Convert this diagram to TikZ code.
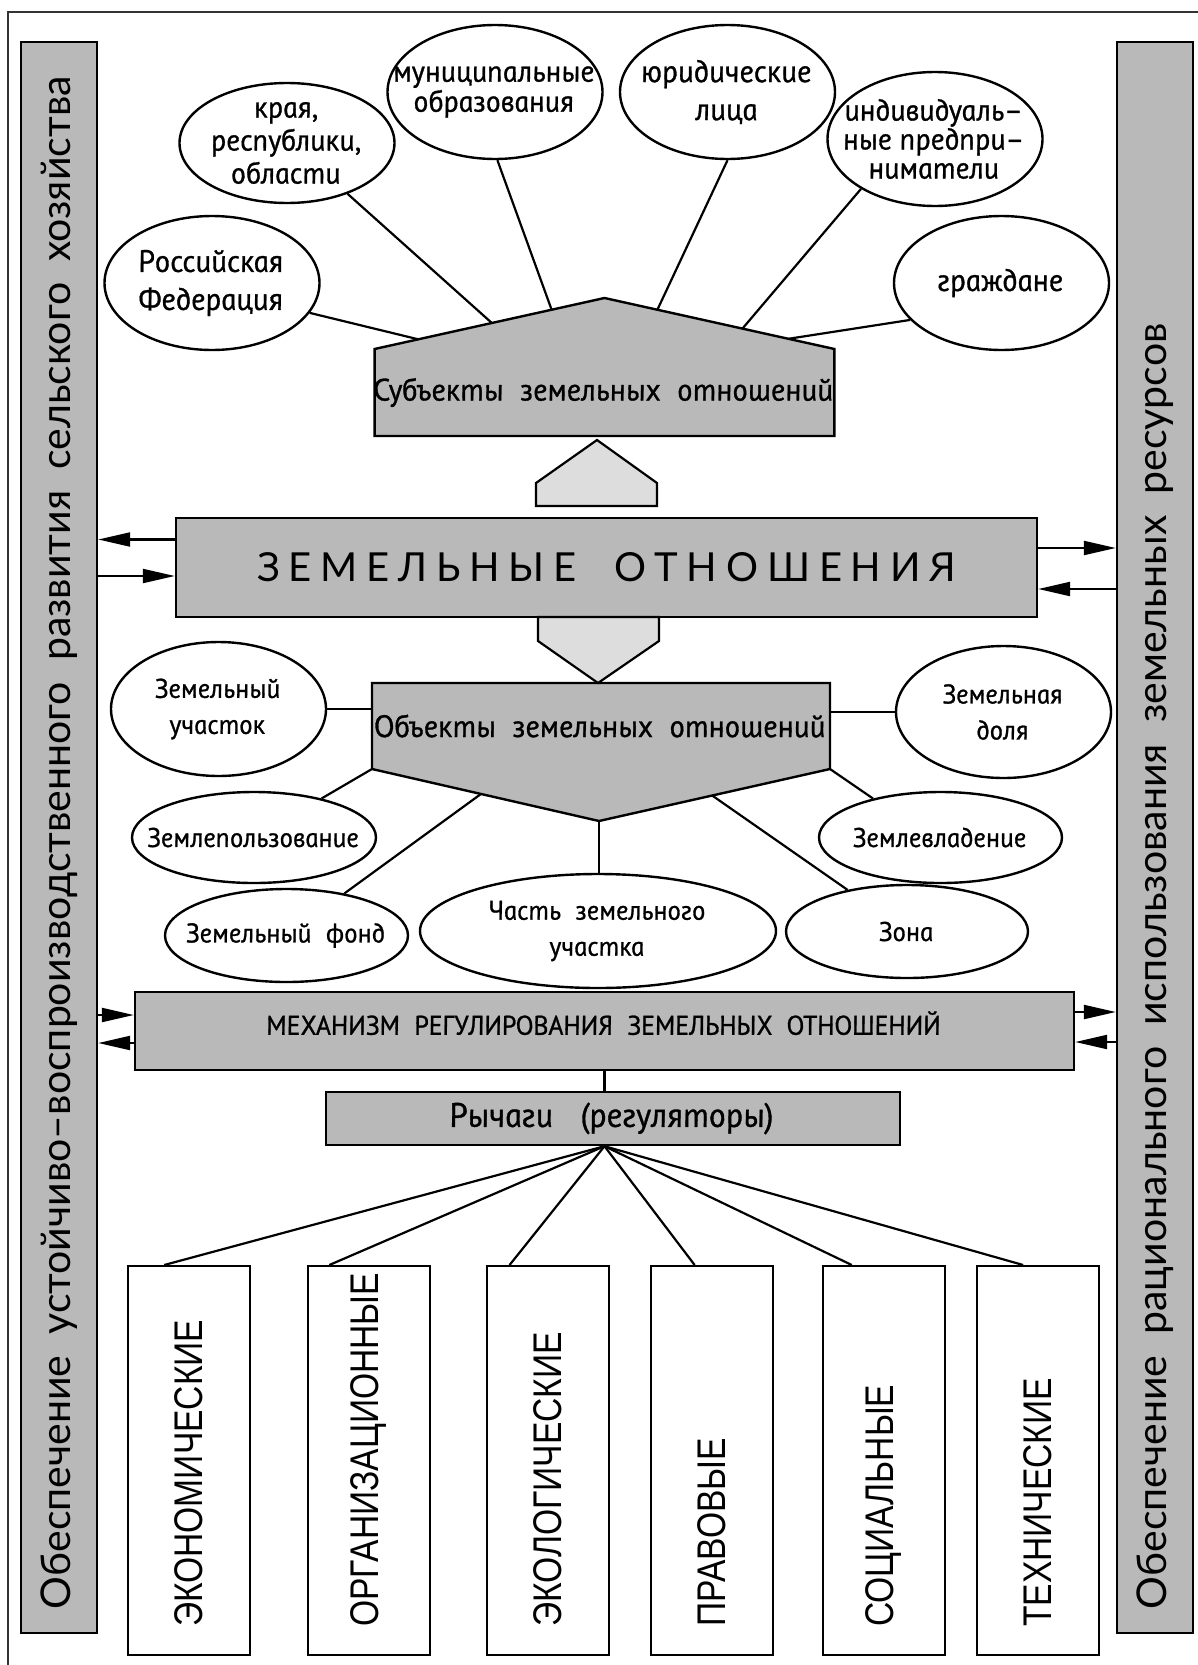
\documentclass[tikz,border=0pt]{standalone}
\usepackage{fontspec}
\setmainfont{PT Sans}
\newfontfamily\gostfont[ItalicFeatures={FakeSlant=-0.2,FakeBold=1}]{PT Sans}
\newfontfamily\barfont{Lato}
\newfontfamily\widefont[LetterSpace=22]{Lato}
\newfontfamily\capsfont[FakeStretch=0.84]{Liberation Sans}
\newcommand\gost[2]{\gostfont\itshape\fontsize{#1}{#2}\selectfont}
\usetikzlibrary{arrows.meta,calc,shapes.geometric,backgrounds}
\definecolor{boxgray}{RGB}{185,185,185}
\definecolor{arrowgray}{RGB}{221,221,221}

\begin{document}
\begin{tikzpicture}[x=1pt, y=-1pt, line width=2.2pt, >={Triangle[length=32pt,width=14pt]},
    graybox/.style={draw, fill=boxgray, line width=2.4pt, inner sep=0pt},
    plainbox/.style={inner sep=0pt, outer sep=0pt},
    ell/.style={draw, ellipse, line width=2.4pt, inner sep=0pt, minimum width=215, minimum height=134},
    lever/.style={draw, line width=2pt, inner sep=0pt, minimum width=122, minimum height=389},
    bartext/.style={rotate=90, anchor=west, inner sep=0pt, font=\barfont\fontsize{41}{41}\selectfont},
    levtext/.style={rotate=90, anchor=west, inner sep=0pt, font=\capsfont\fontsize{40}{40}\selectfont},
    every label/.style={align=center, font=\gost{31}{38}}]
    \useasboundingbox (0,0) rectangle (1198,1665);
    % frame
    \draw[line width=1.5pt, black!80] (8,1665) -- (8,12) -- (1198,12);

    % side bars
    \node[graybox, minimum width=76, minimum height=1591] (lbar) at (59,837.5) {};
    \node[graybox, minimum width=76, minimum height=1591] (rbar) at (1155,837.5) {};
    \node[bartext] (lbar-t) at ([yshift=24]lbar.south) {Обеспечение\ \ устойчиво–воспроизводственного\ \ развития\ \ сельского\ \ хозяйства};
    \node[bartext] (rbar-t) at ([yshift=24]rbar.south) {Обеспечение\ \ рационального\ \ использования\ \ земельных\ \ ресурсов};

    % subjects
    \node[plainbox, minimum width=459, minimum height=87, font=\gost{31}{31}] (subj) at (604.5,392.5) {Субъекты\ \ земельных\ \ отношений};
    \coordinate (subj-top) at ($(subj.north)+(0,-51)$);
    \begin{scope}[on background layer]
        \draw[fill=boxgray, line width=2.4pt] (subj.south west) -- (subj.north west) -- (subj-top) -- (subj.north east) -- (subj.south east) -- cycle;
    \end{scope}
    \node[ell, label={center:{Российская\\Федерация}}] (rf) at (212,283) {};
    \node[ell, minimum height=120, label={[font=\gost{30}{33}]center:{края,\\республики,\\области}}] (kr) at (287,143) {};
    \node[ell, label={[font=\gost{30}{30}]center:{муниципальные\\образования}}] (mo) at (495,92) {};
    \node[ell, label={center:{юридические\\лица}}] (yl) at (727.5,92) {};
    \node[ell, label={[font=\gost{30}{29}]center:{индивидуаль–\\ные предпри–\\ниматели}}] (ip) at (935,139) {};
    \node[ell, label={center:граждане}] (gr) at (1001.5,283) {};
    \draw ($(subj.north west)!0.19!(subj-top)$) -- (rf.-17);
    \draw ($(subj.north west)!0.51!(subj-top)$) -- (kr.-40);
    \draw ($(subj.north west)!0.77!(subj-top)$) -- (mo.-88);
    \draw ($(subj-top)!0.23!(subj.north east)$) -- (yl.-90);
    \draw ($(subj-top)!0.60!(subj.north east)$) -- (ip.-146);
    \draw ($(subj-top)!0.80!(subj.north east)$) -- (gr.-158);

    % land relations
    \draw[fill=arrowgray] (536,506) -- (536,483) -- (597,440) -- (657,483) -- (657,506) -- cycle;
    \node[graybox, minimum width=861, minimum height=99, font=\widefont\fontsize{40}{40}\selectfont] (zo) at (606.5,567.5) {ЗЕМЕЛЬНЫЕ\ \ ОТНОШЕНИЯ};
    \draw[fill=arrowgray] (538,617) -- (538,641) -- (598,683) -- (659,641) -- (659,617) -- cycle;
    \coordinate (zo-l1) at ([yshift=28]zo.west);
    \coordinate (zo-l2) at ([yshift=-8.5]zo.west);
    \coordinate (zo-r1) at ([yshift=19.5]zo.east);
    \coordinate (zo-r2) at ([yshift=-21.5]zo.east);
    \draw[->] (zo-l1) -- (zo-l1 -| lbar.east);
    \draw[->] (zo-l2 -| lbar.east) -- (zo-l2);
    \draw[->] (zo-r1) -- (zo-r1 -| rbar.west);
    \draw[->] (zo-r2 -| rbar.west) -- (zo-r2);

    % objects
    \node[plainbox, minimum width=458, minimum height=86, font=\gost{31}{31}] (obj) at (601,726) {Объекты\ \ земельных\ \ отношений};
    \coordinate (obj-bot) at ($(obj.south)+(-2,52)$);
    \begin{scope}[on background layer]
        \draw[fill=boxgray, line width=2.4pt] (obj.north west) -- (obj.north east) -- (obj.south east) -- (obj-bot) -- (obj.south west) -- cycle;
    \end{scope}
    \begin{scope}[every label/.style={align=center, font=\gost{27}{36}}]
        \node[ell, label={center:{Земельный\\участок}}] (zu) at (218.5,709) {};
        \node[ell, minimum height=132, label={center:{Земельная\\доля}}] (zd) at (1003.5,712) {};
        \node[ell, minimum width=244, minimum height=91, label={center:Землепользование}] (zp) at (254,837.5) {};
        \node[ell, minimum width=243, minimum height=91, label={center:Землевладение}] (zv) at (940.5,837.5) {};
        \node[ell, minimum width=243, minimum height=93, label={center:{Земельный\ \ фонд}}] (zf) at (286.5,935.5) {};
        \node[ell, minimum width=242, minimum height=93, label={center:Зона}] (zn) at (907,931.5) {};
        \node[ell, minimum width=356, minimum height=114, label={center:{Часть\ \ земельного\\участка}}] (ch) at (598,931) {};
    \end{scope}
    \draw (zu.east) -- (zu.east -| obj.west);
    \draw (zd.west -| obj.east) -- (zd.west);
    \draw (obj.south west) -- (zp.30);
    \draw ($(obj.south west)!0.48!(obj-bot)$) -- (zf.36);
    \draw (obj.south east) -- (zv.150);
    \draw ($(obj.south east)!0.51!(obj-bot)$) -- (zn.145);
    \draw (obj-bot) -- (obj-bot |- ch.north);

    % mechanism and levers
    \node[graybox, minimum width=939, minimum height=78, text depth=16pt, font=\gost{27}{27}] (mech) at (604.5,1031) {МЕХАНИЗМ\ \ РЕГУЛИРОВАНИЯ\ \ ЗЕМЕЛЬНЫХ\ \ ОТНОШЕНИЙ};
    \coordinate (mech-l1) at ([yshift=16]mech.west);
    \coordinate (mech-l2) at ([yshift=-12]mech.west);
    \coordinate (mech-r1) at ([yshift=19]mech.east);
    \coordinate (mech-r2) at ([yshift=-11]mech.east);
    \draw[->] (mech-l1 -| lbar.east) -- (mech-l1);
    \draw[->] (mech-l2) -- (mech-l2 -| lbar.east);
    \draw[->] (mech-r1) -- (mech-r1 -| rbar.west);
    \draw[->] (mech-r2 -| rbar.west) -- (mech-r2);
    \node[graybox, minimum width=574, minimum height=53, font=\gost{34}{34}] (lev) at (613,1118.5) {Рычаги\ \ \ (регуляторы)};
    \draw (mech.south) -- (mech.south |- lev.north);
    \coordinate (lev-hub) at (mech.south |- lev.south);

    \node[lever] (e1) at (189,1460.5) {};
    \node[lever] (e2) at (369,1460.5) {};
    \node[lever] (e3) at (548,1460.5) {};
    \node[lever] (e4) at (712,1460.5) {};
    \node[lever] (e5) at (884,1460.5) {};
    \node[lever] (e6) at (1038,1460.5) {};
    \node[levtext] (e1-t) at ([yshift=28]e1.south) {ЭКОНОМИЧЕСКИЕ};
    \node[levtext] (e2-t) at ([yshift=28]e2.south) {ОРГАНИЗАЦИОННЫЕ};
    \node[levtext] (e3-t) at ([yshift=28]e3.south) {ЭКОЛОГИЧЕСКИЕ};
    \node[levtext] (e4-t) at ([yshift=28]e4.south) {ПРАВОВЫЕ};
    \node[levtext] (e5-t) at ([yshift=28]e5.south) {СОЦИАЛЬНЫЕ};
    \node[levtext] (e6-t) at ([yshift=28]e6.south) {ТЕХНИЧЕСКИЕ};
    \draw (lev-hub) -- ($(e1.north west)!0.30!(e1.north east)$);
    \draw (lev-hub) -- ($(e2.north west)!0.18!(e2.north east)$);
    \draw (lev-hub) -- ($(e3.north west)!0.19!(e3.north east)$);
    \draw (lev-hub) -- ($(e4.north west)!0.36!(e4.north east)$);
    \draw (lev-hub) -- ($(e5.north west)!0.24!(e5.north east)$);
    \draw (lev-hub) -- ($(e6.north west)!0.38!(e6.north east)$);
\end{tikzpicture}
\end{document}
